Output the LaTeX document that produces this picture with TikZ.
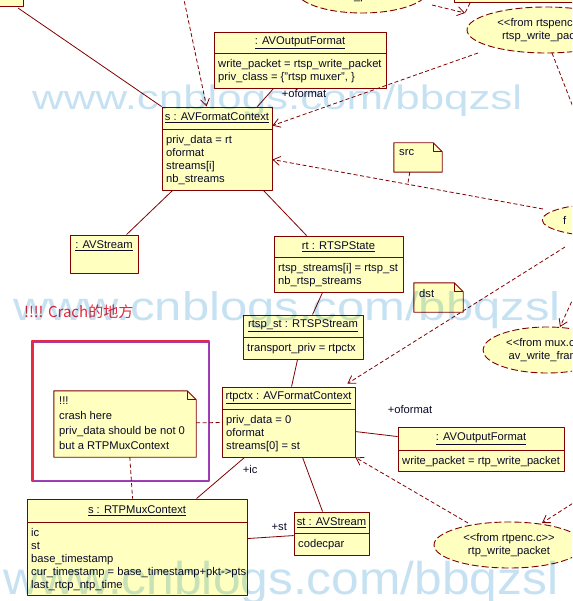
\documentclass[tikz,border=0pt]{standalone}
\usepackage{fontspec}
\usepackage{graphicx}
\setmainfont{Liberation Sans}
\newfontfamily\cjk{Noto Sans CJK SC}
\usetikzlibrary{arrows.meta, calc, shapes.geometric}
\definecolor{objFill}{HTML}{FFFFC0}
\definecolor{objEdge}{HTML}{800000}
\definecolor{objText}{HTML}{0A0A28}
\definecolor{markRed}{HTML}{E8283C}
\definecolor{markPurple}{HTML}{A040B8}
\definecolor{wmBlue}{HTML}{C6E2F2}

\newcommand{\stOpen}{\textless\kern0pt\textless}
\newcommand{\stClose}{\textgreater\kern0pt\textgreater}

\begin{document}
\begin{tikzpicture}[x=1pt, y=-1pt, line join=round]

\tikzset{
  objbox/.style={draw=objEdge, fill=objFill, line width=0.9pt, inner sep=0pt},
  notebox/.style={inner sep=0pt},
  umlline/.style={objEdge, line width=0.9pt},
  umltext/.style={text=objText, font=\fontsize{11.2}{13}\selectfont, inner sep=0pt},
  attrs/.style={umltext, anchor=north west, align=left},
  usecase/.style={ellipse, draw=objEdge, fill=objFill, line width=0.9pt,
                  dash pattern=on 7pt off 3pt, umltext, align=center},
  assoc/.style={objEdge, line width=0.8pt},
  dep/.style={objEdge, line width=0.8pt, dash pattern=on 4pt off 2.5pt,
              -{Straight Barb[length=7pt, width=9pt]}},
  noteline/.style={objEdge, line width=0.8pt, dash pattern=on 4pt off 2.5pt},
  rolelbl/.style={umltext, anchor=west},
  wmark/.style={text=wmBlue, inner sep=0pt, anchor=base west},
}

\def\fold{9pt}

% object box: name, left, top, right, bottom, separator, title, attributes
\newcommand{\umlobj}[8]{%
  \pgfmathsetmacro{\bw}{#4-#2}\pgfmathsetmacro{\bh}{#5-#3}%
  \node[objbox, minimum width=\bw pt, minimum height=\bh pt] (#1)
       at ({(#2+#4)/2},{(#3+#5)/2}) {};
  \draw[umlline] (#2,#6) -- (#4,#6);
  \node[umltext] at ({(#2+#4)/2},{(#3+#6)/2}) {\underline{#7}};
  \node[attrs] at ({#2+4},{#6+6}) {#8};%
}

% note: name, left, top, right, bottom, text
\newcommand{\umlnote}[6]{%
  \pgfmathsetmacro{\bw}{#4-#2}\pgfmathsetmacro{\bh}{#5-#3}%
  \node[notebox, minimum width=\bw pt, minimum height=\bh pt] (#1)
       at ({(#2+#4)/2},{(#3+#5)/2}) {};
  \draw[umlline, fill=objFill] (#1.north west) -- ([xshift=-\fold]#1.north east)
       -- ([yshift=-\fold]#1.north east) -- (#1.south east) -- (#1.south west) -- cycle;
  \draw[umlline] ([xshift=-\fold]#1.north east) -- ([xshift=-\fold, yshift=-\fold]#1.north east)
       -- ([yshift=-\fold]#1.north east);
  \node[attrs] at ({#2+5},{#3+6}) {#6};%
}

\useasboundingbox (0,0) rectangle (572,601);
\clip (0,0) rectangle (572,601);

% cut boxes at the top
\node[objbox, minimum width=60pt, minimum height=40pt, anchor=south east] (tl) at (24,7) {};
\node[objbox, minimum width=150pt, minimum height=40pt, anchor=south west] (tr) at (454,3) {};

% use cases
\node[usecase, minimum width=132pt, minimum height=46pt] (wp) at (362,-10)
     {\vphantom{Ag}\\write\_packet};
\node[usecase, minimum width=158pt, minimum height=46pt] (rtspw) at (546,30)
     {\stOpen from rtspenc.c\stClose\\rtsp\_write\_packet};
\node[usecase, minimum width=140pt, minimum height=34pt, text width=100pt, align=left]
     (fel) at (613,220) {f};
\node[usecase, minimum width=128pt, minimum height=46pt] (mux) at (547,350)
     {\stOpen from mux.c\stClose\\av\_write\_frame};
\node[usecase, minimum width=150pt, minimum height=46pt] (rtpw) at (509,545)
     {\stOpen from rtpenc.c\stClose\\rtp\_write\_packet};

% objects
\umlobj{ao1}{214}{32}{386}{88}{53}{: AVOutputFormat}
  {write\_packet = rtsp\_write\_packet\\priv\_class = \{"rtsp muxer", \}}
\umlobj{s}{162}{107}{272}{190}{129}{s : AVFormatContext}
  {priv\_data = rt\\oformat\\streams[i]\\nb\_streams}
\node[objbox, minimum width=68pt, minimum height=38pt] (avs1) at (104,254) {};
\node[umltext] at (104,246) {\underline{: AVStream}};
\umlobj{rt}{274}{236}{403}{292}{257}{rt : RTSPState}
  {rtsp\_streams[i] = rtsp\_st\\nb\_rtsp\_streams}
\umlobj{rtspst}{243}{315}{363}{359}{337}{rtsp\_st : RTSPStream}{transport\_priv = rtpctx}
\umlobj{rtpctx}{222}{387}{355}{457}{409}{rtpctx : AVFormatContext}
  {priv\_data = 0\\oformat\\streams[0] = st}
\umlobj{ao2}{398}{427}{564}{471}{450}{: AVOutputFormat}{write\_packet = rtp\_write\_packet}
\umlobj{rtpmux}{27}{499}{247}{595}{522}{s : RTPMuxContext}
  {ic\\st\\base\_timestamp\\cur\_timestamp = base\_timestamp+pkt->pts\\last\_rtcp\_ntp\_time}
\umlobj{st}{294}{512}{369}{555}{533}{st : AVStream}{codecpar}

% notes
\umlnote{src}{394}{143}{442}{172}{src}
\umlnote{dst}{414}{283}{463}{312}{dst}
\umlnote{crash}{54}{391}{196}{457}
  {!!!\\[2pt]crash here\\[2pt]priv\_data should be not 0\\[2pt]but a RTPMuxContext}

% marked area
\draw[markRed, line width=1.1pt] (32,341) rectangle (209,481);
\draw[markPurple, line width=0.9pt] (33,342) rectangle (208,480);
\node[text=markRed, inner sep=0pt, anchor=west, font=\cjk\fontsize{15}{15}\selectfont]
     (crachlbl) at (24,312) {!!!! Crach的地方};

% associations
\draw[assoc] ($(tl.south east)+(-6,1)$) -- (s.north west);
\draw[assoc] ($(ao1.south west)+(60,0)$) -- ($(s.north east)+(-15,0)$);
\node[rolelbl] (oflbl1) at ($(ao1.south west)+(68,5)$) {+oformat};
\draw[assoc] ($(s.south west)+(11,0)$) -- ($(avs1.north west)+(57,0)$);
\draw[assoc] ($(s.south east)+(-9,0)$) -- ($(rt.north west)+(33,0)$);
\draw[assoc] ($(rt.south west)+(49,0)$) -- ($(rtspst.north west)+(70,0)$);
\draw[assoc] ($(rtspst.south west)+(55,0)$) -- ($(rtpctx.north west)+(70,0)$);
\draw[assoc] ($(rtpctx.north east)+(0,45)$) -- ($(ao2.north west)+(0,10)$);
\node[rolelbl] (oflbl2) at ($(ao2.north west)+(-10,-17)$) {+oformat};
\draw[assoc] ($(rtpctx.south west)+(23,0)$) -- ($(rtpmux.north west)+(170,0)$);
\node[rolelbl] (iclbl) at ($(rtpctx.south west)+(21,12)$) {+ic};
\draw[assoc] ($(rtpctx.south west)+(81,0)$) -- ($(st.north west)+(29,0)$);
\draw[assoc] ($(rtpmux.north east)+(0,40)$) -- ($(st.north west)+(0,24)$);
\node[rolelbl] (stlbl) at ($(rtpmux.north east)+(24,28)$) {+st};

% dependencies
\coordinate (topin) at (183,-5);
\coordinate (rtspout) at (580,125);
\coordinate (muxin) at (577,290);
\coordinate (rtpin) at (578,500);
\draw[dep] (topin) -- ($(s.north west)+(45,0)$);
\draw[dep] ($(wp.center)+(70,15)$) -- ($(rtspw.center)+(-81,-17)$);
\draw[noteline] ($(tr.south west)+(16,0)$) -- ($(rtspw.center)+(-81,-17)$);
\draw[dep] ($(rtspw.center)+(-68,23)$) -- ($(s.north east)+(0,19)$);
\draw[noteline] ($(rtspw.center)+(6,23)$) -- (rtspout);
\draw[dep] ($(fel.center)+(-70,-11)$) -- coordinate[pos=0.5] (srcpt) ($(s.north east)+(0,53)$);
\draw[noteline] ($(src.south west)+(16,0)$) -- (srcpt);
\draw[dep] ($(fel.center)+(-48,27)$) -- ($(rtpctx.north east)+(-8,-3)$);
\draw[dep] (muxin) -- ($(mux.center)+(13,-23)$);
\draw[noteline] ($(crash.north east)+(0,32)$) -- ($(rtpctx.north west)+(0,36)$);
\draw[noteline] ($(crash.south west)+(76,0)$) -- ($(rtpmux.north west)+(106,0)$);
\draw[dep] ($(rtpw.center)+(-41,-22)$) -- (rtpctx.south east);
\draw[dep] (rtpin) -- ($(rtpw.center)+(33,-22)$);

% watermark
\begin{scope}[blend mode=multiply]
  \node[wmark, font=\fontsize{34}{34}\selectfont] (wm1) at (32,110)
       {\scalebox{1.29}[1]{www.cnblogs.com/bbqzsl}};
  \node[wmark, font=\fontsize{40}{40}\selectfont] (wm2) at (13,320)
       {\scalebox{1.225}[1]{www.cnblogs.com/bbqzsl}};
  \node[wmark, font=\fontsize{46}{46}\selectfont] (wm3) at (3,594)
       {\scalebox{1.08}[1]{www.cnblogs.com/bbqzsl}};
\end{scope}

\end{tikzpicture}
\end{document}
